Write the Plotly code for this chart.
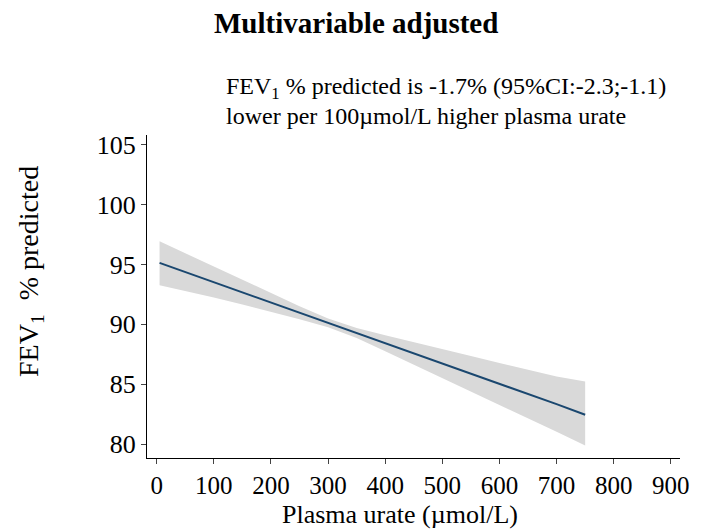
import plotly.graph_objects as go

# ---- data ----
urate = [5, 50, 100, 150, 200, 250, 300, 350, 400, 450, 500, 550, 600, 650, 700, 750]
fev_fit = [95.14, 94.38, 93.53, 92.68, 91.83, 90.98, 90.13, 89.28, 88.43, 87.58,
           86.73, 85.88, 85.03, 84.18, 83.33, 82.45]
ci_upper = [96.94, 95.95, 94.82, 93.70, 92.60, 91.52, 90.50, 89.70, 89.10, 88.50,
            87.92, 87.35, 86.78, 86.20, 85.65, 85.22]
ci_lower = [93.28, 92.80, 92.24, 91.66, 91.06, 90.43, 89.77, 88.86, 87.76, 86.66,
            85.55, 84.42, 83.28, 82.15, 81.02, 79.87]
x_ticks = [0, 100, 200, 300, 400, 500, 600, 700, 800, 900]
y_ticks = [80, 85, 90, 95, 100, 105]

title_text = "<b>Multivariable adjusted</b>"
note_line1 = "FEV<sub>1</sub> % predicted is -1.7% (95%CI:-2.3;-1.1)"
note_line2 = "lower per 100µmol/L higher plasma urate"
x_title = "Plasma urate (µmol/L)"
y_title = "FEV<sub>1</sub>  % predicted"

# ---- layout geometry (pixels) ----
W, H = 728, 531
L, R, T, B = 147, 680, 135, 458
FONT = "Liberation Serif, Times New Roman, serif"


def px(x):
    return (x - L) / (R - L)


def py(y):
    return (B - y) / (B - T)


fig = go.Figure()
fig.add_trace(go.Scatter(
    x=urate + urate[::-1], y=ci_upper + ci_lower[::-1],
    fill="toself", fillcolor="#d9d9d9", line=dict(width=0),
    mode="lines", hoverinfo="skip", showlegend=False))
fig.add_trace(go.Scatter(
    x=urate, y=fev_fit, mode="lines",
    line=dict(color="#1a476f", width=2), showlegend=False))

fig.update_layout(
    width=W, height=H,
    margin=dict(l=L, r=W - R, t=T, b=H - B, pad=0),
    paper_bgcolor="white", plot_bgcolor="white",
    font=dict(family=FONT, size=25, color="black"),
    showlegend=False,
)
fig.update_xaxes(
    range=[-17, 916], tickvals=x_ticks, ticktext=[str(v) for v in x_ticks],
    showline=True, linecolor="black", linewidth=1,
    ticks="outside", ticklen=5, tickcolor="#444", tickwidth=1,
    showgrid=False, zeroline=False,
    tickfont=dict(family=FONT, size=25, color="black"),
)
fig.update_yaxes(
    range=[78.83, 105.83], tickvals=y_ticks, ticktext=[str(v) for v in y_ticks],
    showline=True, linecolor="black", linewidth=1,
    ticks="outside", ticklen=5, tickcolor="#444", tickwidth=1,
    showgrid=False, zeroline=False,
    tickfont=dict(family=FONT, size=26, color="black"),
)

ann = []
ann.append(dict(text=title_text, x=px(356), y=py(23), xref="paper", yref="paper",
                xanchor="center", yanchor="middle", showarrow=False,
                font=dict(family=FONT, size=29, color="black")))
ann.append(dict(text=note_line1, x=px(224), y=py(88), xref="paper", yref="paper",
                xanchor="left", yanchor="middle", showarrow=False,
                font=dict(family=FONT, size=24, color="black")))
ann.append(dict(text=note_line2, x=px(224), y=py(116), xref="paper", yref="paper",
                xanchor="left", yanchor="middle", showarrow=False,
                font=dict(family=FONT, size=24, color="black")))
ann.append(dict(text=x_title, x=px(400), y=py(514), xref="paper", yref="paper",
                xanchor="center", yanchor="middle", showarrow=False,
                font=dict(family=FONT, size=26, color="black")))
ann.append(dict(text=y_title, x=px(30), y=py(272), xref="paper", yref="paper",
                xanchor="center", yanchor="middle", showarrow=False, textangle=-90,
                font=dict(family=FONT, size=28, color="black")))
fig.update_layout(annotations=ann)

fig.write_html("out.html")
